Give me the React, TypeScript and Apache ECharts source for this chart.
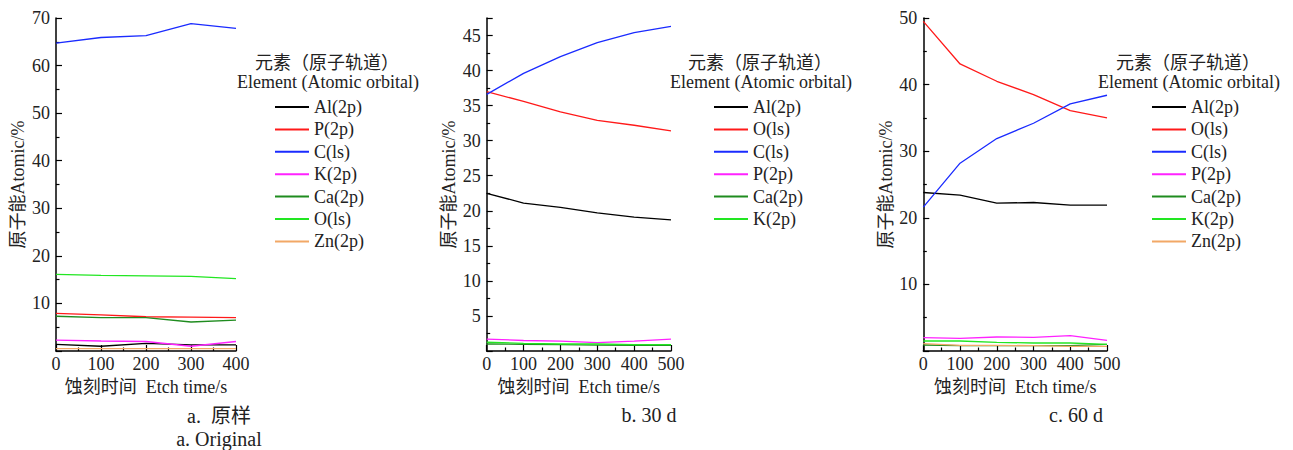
import React, { useEffect, useRef } from "react";
import * as echarts from "echarts";

// ---- data ----
const timeA = [0, 100, 200, 300, 400];
const timeBC = [0, 100, 200, 300, 400, 500];

const namesA = ["Al(2p)", "P(2p)", "C(ls)", "K(2p)", "Ca(2p)", "O(ls)", "Zn(2p)"];
const aAl = [1.4, 1.0, 1.6, 1.3, 1.3];
const aP = [7.9, 7.6, 7.2, 7.1, 7.0];
const aC = [64.7, 65.9, 66.3, 68.8, 67.8];
const aK = [2.3, 2.1, 2.0, 1.0, 2.0];
const aCa = [7.3, 7.0, 7.0, 6.1, 6.5];
const aO = [16.1, 15.9, 15.8, 15.7, 15.2];
const aZn = [0.5, 0.5, 0.5, 0.5, 0.5];

const namesB = ["Al(2p)", "O(ls)", "C(ls)", "P(2p)", "Ca(2p)", "K(2p)"];
const bAl = [22.5, 21.1, 20.5, 19.7, 19.1, 18.7];
const bO = [37.0, 35.6, 34.1, 32.9, 32.2, 31.4];
const bC = [36.6, 39.6, 42.0, 44.0, 45.4, 46.3];
const bP = [1.7, 1.5, 1.4, 1.2, 1.4, 1.7];
const bCa = [1.0, 0.95, 0.9, 0.85, 0.8, 0.8];
const bK = [1.25, 1.1, 1.0, 1.0, 0.9, 0.9];

const namesC = ["Al(2p)", "O(ls)", "C(ls)", "P(2p)", "Ca(2p)", "K(2p)", "Zn(2p)"];
const cAl = [23.8, 23.4, 22.2, 22.3, 21.9, 21.9];
const cO = [49.5, 43.1, 40.5, 38.5, 36.1, 35.0];
const cC = [21.6, 28.2, 31.9, 34.2, 37.1, 38.4];
const cP = [2.0, 1.9, 2.1, 2.05, 2.3, 1.6];
const cCa = [0.9, 0.8, 0.8, 0.8, 0.8, 1.0];
const cK = [1.5, 1.5, 1.3, 1.2, 1.2, 1.0];
const cZn = [1.1, 0.85, 0.85, 0.8, 0.7, 0.7];

const legendTitle1 = "元素（原子轨道）";
const legendTitle2 = "Element (Atomic orbital)";
const yName = "原子能Atomic/%";
const xName = "蚀刻时间  Etch time/s";

// ---- styles ----
const FONT = "'Liberation Serif', 'Times New Roman', 'Noto Sans CJK SC', serif";
const TXT = "#222";
const COL: Record<string, string> = {
  Al: "#000000",
  red: "#ff1a1a",
  blue: "#1a2bff",
  mag: "#ff22ff",
  dgreen: "#1f8c1f",
  lgreen: "#22e622",
  zn: "#f2a866",
};

type Panel = {
  left: number;
  width: number;
  gridLeft: number;
  gridWidth: number;
  yMax: number;
  yInterval: number;
  xMax: number;
  yNameGap: number;
  legendLeft: number;
  titleX: number;
  xs: number[];
  names: string[];
  ys: number[][];
  colors: string[];
  captions: { text: string; x: number; y: number }[];
};

const panels: Panel[] = [
  {
    left: 0, width: 430, gridLeft: 56, gridWidth: 180, yMax: 70, yInterval: 10, xMax: 400,
    yNameGap: 29, legendLeft: 275, titleX: 327, xs: timeA, names: namesA,
    ys: [aAl, aP, aC, aK, aCa, aO, aZn],
    colors: [COL.Al, COL.red, COL.blue, COL.mag, COL.dgreen, COL.lgreen, COL.zn],
    captions: [{ text: "a.  原样", x: 219, y: 416 }, { text: "a. Original", x: 219, y: 439 }],
  },
  {
    left: 430, width: 430, gridLeft: 56.7, gridWidth: 184.3, yMax: 47.5, yInterval: 5, xMax: 500,
    yNameGap: 29, legendLeft: 284, titleX: 330, xs: timeBC, names: namesB,
    ys: [bAl, bO, bC, bP, bCa, bK],
    colors: [COL.Al, COL.red, COL.blue, COL.mag, COL.dgreen, COL.lgreen],
    captions: [{ text: "b. 30 d", x: 219, y: 415 }],
  },
  {
    left: 860, width: 433, gridLeft: 63.3, gridWidth: 183.7, yMax: 50, yInterval: 10, xMax: 500,
    yNameGap: 27, legendLeft: 292, titleX: 328, xs: timeBC, names: namesC,
    ys: [cAl, cO, cC, cP, cCa, cK, cZn],
    colors: [COL.Al, COL.red, COL.blue, COL.mag, COL.dgreen, COL.lgreen, COL.zn],
    captions: [{ text: "c. 60 d", x: 216, y: 415 }],
  },
];

function buildOption(p: Panel) {
  const axisCommon = {
    type: "value",
    axisLine: { show: true, lineStyle: { color: "#000", width: 1.5 } },
    axisTick: { show: true, inside: true, length: 6, lineStyle: { color: "#000", width: 1.2 } },
    minorTick: { show: true, splitNumber: 2, length: 3.5, lineStyle: { color: "#000", width: 1.2 } },
    splitLine: { show: false },
    nameLocation: "middle",
    nameTextStyle: { fontSize: 18, fontFamily: FONT, color: TXT },
  };
  const texts: any[] = [
    {
      type: "text", x: p.titleX, y: 63,
      style: { text: legendTitle1, textAlign: "center", textVerticalAlign: "middle", font: `18px ${FONT}`, fill: TXT },
    },
    {
      type: "text", x: p.titleX + 1, y: 82,
      style: { text: legendTitle2, textAlign: "center", textVerticalAlign: "middle", font: `18px ${FONT}`, fill: TXT },
    },
    ...p.captions.map((c) => ({
      type: "text", x: c.x, y: c.y,
      style: { text: c.text, textAlign: "center", textVerticalAlign: "middle", font: `20px ${FONT}`, fill: TXT },
    })),
  ];
  return {
    animation: false,
    backgroundColor: "#fff",
    grid: { left: p.gridLeft, top: 18, width: p.gridWidth, height: 333, outerBoundsMode: "none" },
    xAxis: {
      ...axisCommon,
      min: 0,
      max: p.xMax,
      interval: 100,
      name: xName,
      nameGap: 26,
      axisLabel: { fontSize: 18, fontFamily: FONT, color: TXT, margin: 4 },
    },
    yAxis: {
      ...axisCommon,
      min: 0,
      max: p.yMax,
      interval: p.yInterval,
      name: yName,
      nameGap: p.yNameGap,
      axisLabel: {
        fontSize: 18, fontFamily: FONT, color: TXT, margin: 6,
        showMinLabel: false,
        showMaxLabel: p.yMax % p.yInterval === 0,
      },
    },
    legend: {
      orient: "vertical",
      left: p.legendLeft,
      top: 97,
      padding: 0,
      itemWidth: 34,
      itemHeight: 2,
      itemGap: 2.4,
      icon: "rect",
      selectedMode: false,
      textStyle: { fontSize: 18, lineHeight: 20, fontFamily: FONT, color: TXT },
      data: p.names,
    },
    graphic: texts,
    series: p.names.map((n, i) => ({
      type: "line",
      name: n,
      symbol: "none",
      showSymbol: false,
      color: p.colors[i],
      lineStyle: { width: 1.3, color: p.colors[i] },
      data: p.xs.map((x, j) => [x, p.ys[i][j]]),
    })),
  };
}

function ChartPanel({ p }: { p: Panel }) {
  const ref = useRef<HTMLDivElement>(null);
  useEffect(() => {
    if (!ref.current) return;
    const chart = echarts.init(ref.current, undefined, { renderer: "svg" });
    chart.setOption(buildOption(p) as any);
    return () => chart.dispose();
  }, [p]);
  return (
    <div
      ref={ref}
      style={{ position: "absolute", left: p.left, top: 0, width: p.width, height: 450 }}
    />
  );
}

export default function App() {
  return (
    <div style={{ position: "absolute", left: 0, top: 0, width: 1293, height: 450, background: "#fff" }}>
      {panels.map((p, i) => (
        <ChartPanel key={i} p={p} />
      ))}
    </div>
  );
}
